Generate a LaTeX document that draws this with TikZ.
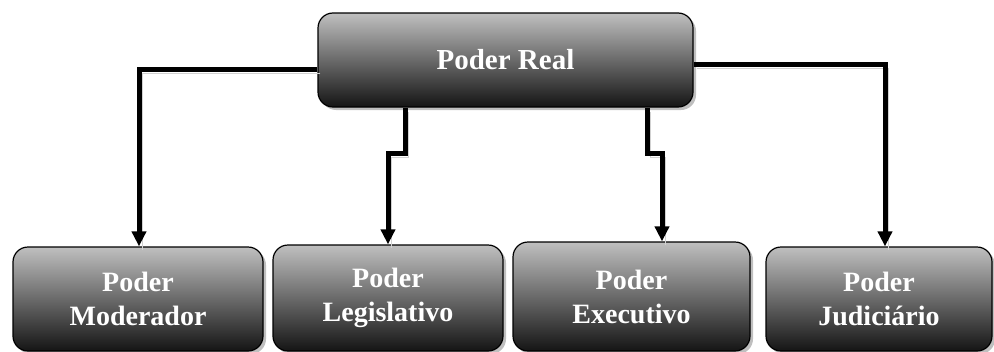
\documentclass[tikz,border=0pt]{standalone}
\usepackage{fontspec}
\setmainfont{Liberation Serif}
\usetikzlibrary{shadows,arrows.meta}
\tikzset{
  boxstyle/.style={draw=black, line width=1.2pt, rounded corners=15pt,
    top color=black!25, bottom color=black!92, shading angle=0,
    drop shadow={shadow xshift=3pt, shadow yshift=-3pt, fill=black, opacity=0.25},
    text=white, align=center, inner sep=0pt,
    font=\fontsize{28}{34}\selectfont\bfseries},
  conn/.style={line width=5pt, draw=black, line join=miter,
    -{Triangle[width=14pt,length=15pt]},
    preaction={draw=black!18, transform canvas={xshift=3pt,yshift=-4pt}, -}}
}
\begin{document}
\begin{tikzpicture}[x=1pt,y=-1pt]
\useasboundingbox (0,0) rectangle (994,351);
\node[boxstyle, minimum width=375pt, minimum height=94pt, font=\fontsize{29}{34}\selectfont\bfseries] (real) at (505.5,60) {Poder Real};
\node[boxstyle, minimum width=250pt, minimum height=104pt] (mod) at (138,299) {Poder\\Moderador};
\node[boxstyle, minimum width=230pt, minimum height=106pt] (leg) at (388,298) {Poder\\Legislativo};
\node[boxstyle, minimum width=237pt, minimum height=109pt] (exe) at (631.5,296.5) {Poder\\Executivo};
\node[boxstyle, minimum width=226pt, minimum height=104pt] (jud) at (879,299) {Poder\\Judiciário};
\draw[conn] ([yshift=-9pt]real.west) -| ([xshift=1pt]mod.north);
\draw[conn] ([yshift=-4pt]real.east) -| ([xshift=6pt]jud.north);
\draw[conn] ([xshift=-100.5pt]real.south) -- ++(0,46) -| (leg.north);
\draw[conn] ([xshift=141.5pt]real.south) -- ++(0,46) -| ([xshift=30.5pt]exe.north);
\end{tikzpicture}
\end{document}
